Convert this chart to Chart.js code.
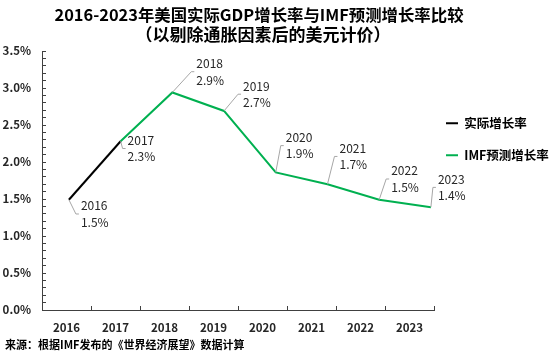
<!DOCTYPE html>
<html>
<head>
<meta charset="utf-8">
<script src="https://cdn.jsdelivr.net/npm/chart.js@4.4.1/dist/chart.umd.min.js"></script>
<style>
  body { margin: 0; background: #fff; }
</style>
</head>
<body>
<canvas id="myChart" width="550" height="354"></canvas>
<script>
var years = [2016, 2017, 2018, 2019, 2020, 2021, 2022, 2023];
var actualGrowth = [1.49, 2.28, null, null, null, null, null, null];
var imfForecast = [null, 2.28, 2.94, 2.69, 1.86, 1.70, 1.49, 1.39];
var titleLines = ['2016-2023年美国实际GDP增长率与IMF预测增长率比较', '（以剔除通胀因素后的美元计价）'];
var sourceNote = '来源：根据IMF发布的《世界经济展望》数据计算';

var CJK = '"Noto Sans CJK SC", "Noto Sans", sans-serif';

// where each year's label sits relative to its point (left edge, first line)
var labelOffsets = [[12, 6], [7, -1], [24, -29], [19, -25], [10, -35], [12, -36], [12, -29], [7, -28]];

function toPoints(values) {
    var pts = [];
    for (var i = 0; i < years.length; i++) {
        if (values[i] !== null) pts.push({x: years[i], y: values[i]});
    }
    return pts;
}

var pointLabels = {
    id: 'pointLabels',
    afterDatasetsDraw: function(chart) {
        var ctx = chart.ctx;
        var done = {};
        ctx.save();
        ctx.font = '12px ' + CJK;
        ctx.textBaseline = 'middle';
        ctx.textAlign = 'left';
        chart.data.datasets.forEach(function(ds, di) {
            var meta = chart.getDatasetMeta(di);
            meta.data.forEach(function(pt, j) {
                var year = ds.data[j].x;
                if (done[year]) return;
                done[year] = true;
                var k = years.indexOf(year);
                var left = pt.x + labelOffsets[k][0];
                var y1 = pt.y + labelOffsets[k][1];
                var y2 = y1 + 16.5;
                var mid = (y1 + y2) / 2;
                ctx.strokeStyle = '#a6a6a6';
                ctx.lineWidth = 1;
                ctx.beginPath();
                ctx.moveTo(pt.x, pt.y);
                ctx.lineTo(left - 5, mid);
                ctx.lineTo(left - 2, mid);
                ctx.stroke();
                ctx.fillStyle = '#262626';
                ctx.fillText(String(year), left, y1);
                ctx.fillText(ds.data[j].y.toFixed(1) + '%', left, y2);
            });
        });
        ctx.restore();
    }
};

var captions = {
    id: 'captions',
    afterDraw: function(chart) {
        var ctx = chart.ctx;
        ctx.save();
        ctx.fillStyle = '#000';
        ctx.textBaseline = 'middle';
        ctx.textAlign = 'center';
        ctx.font = 'bold 16.4px ' + CJK;
        ctx.fillText(titleLines[0], 259, 15);
        ctx.font = 'bold 17px ' + CJK;
        ctx.fillText(titleLines[1], 263, 34.5);
        ctx.textAlign = 'left';
        ctx.font = 'bold 11px ' + CJK;
        ctx.fillText(sourceNote, 5, 345);
        ctx.restore();
    }
};

var axisColor = '#404040';
var tickFont = {family: CJK, size: 11.5, weight: 'bold'};

var ctx = document.getElementById('myChart');
var myChart = new Chart(ctx, {
    type: 'line',
    data: {
        labels: years.map(String),
        datasets: [{
            label: '实际增长率',
            data: toPoints(actualGrowth),
            xAxisID: 'xl',
            borderColor: '#000000',
            backgroundColor: '#000000',
            borderWidth: 2,
            pointRadius: 0
        }, {
            label: 'IMF预测增长率',
            data: toPoints(imfForecast),
            xAxisID: 'xl',
            borderColor: '#00b050',
            backgroundColor: '#00b050',
            borderWidth: 2,
            pointRadius: 0
        }]
    },
    options: {
        responsive: false,
        animation: false,
        devicePixelRatio: 1,
        layout: {padding: {top: 51, left: 0, right: 0, bottom: 20}},
        scales: {
            x: {
                type: 'category',
                offset: true,
                grid: {offset: true, drawOnChartArea: false, tickLength: -4, tickColor: axisColor},
                border: {color: axisColor},
                ticks: {padding: 15, color: '#262626', font: tickFont, autoSkip: false, maxRotation: 0},
                afterFit: function(scale) { scale.height = 24; }
            },
            xl: {type: 'linear', display: false, min: 2015.48, max: 2023.06},
            y: {
                min: 0,
                max: 3.5,
                grid: {drawOnChartArea: false, tickLength: -4, tickColor: axisColor},
                border: {color: axisColor},
                afterFit: function(scale) { scale.width = 42; },
                ticks: {
                    stepSize: 0.1,
                    autoSkip: false,
                    padding: 15,
                    color: '#262626',
                    font: tickFont,
                    callback: function(v) {
                        return Math.round(v * 10) % 5 === 0 ? v.toFixed(1) + '%' : '';
                    }
                }
            }
        },
        plugins: {
            legend: {
                position: 'right',
                align: 'start',
                fullSize: false,
                maxWidth: 116,
                title: {display: true, text: '', padding: 0, font: {size: 12, lineHeight: '54px'}},
                labels: {
                    boxWidth: 12,
                    boxHeight: 2,
                    padding: 12,
                    color: '#000',
                    font: {family: CJK, size: 12.5, weight: 'bold', lineHeight: '20px'},
                    generateLabels: function(chart) {
                        return Chart.defaults.plugins.legend.labels.generateLabels(chart).map(function(item) {
                            item.text = [item.text];
                            item.lineWidth = 0;
                            return item;
                        });
                    }
                }
            },
            tooltip: {enabled: false}
        }
    },
    plugins: [pointLabels, captions]
});
</script>
</body>
</html>
